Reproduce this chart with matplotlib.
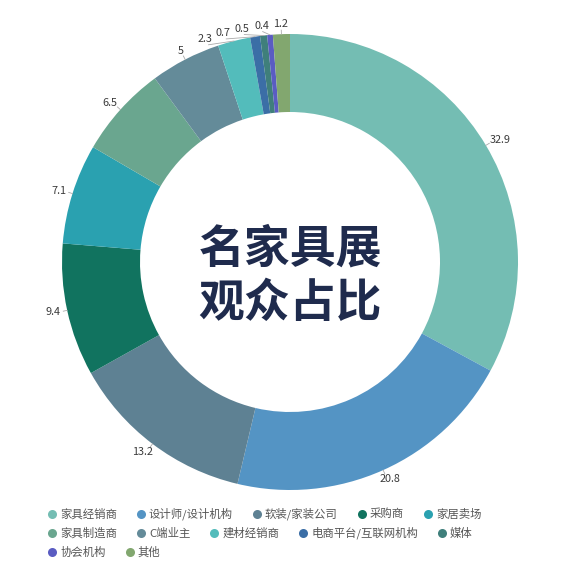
import numpy as np
import matplotlib
matplotlib.use('Agg')
import matplotlib.pyplot as plt

plt.rcParams['font.family'] = ['Noto Sans CJK SC', 'DejaVu Sans']

# 数据
categories = ['家具经销商', '设计师/设计机构', '软装/家装公司', '采购商', '家居卖场',
              '家具制造商', 'C端业主', '建材经销商', '电商平台/互联网机构', '媒体',
              '协会机构', '其他']
values = [32.9, 20.8, 13.2, 9.4, 7.1, 6.5, 5, 2.3, 0.7, 0.5, 0.4, 1.2]
colors = ['#74bdb3', '#5494c4', '#5e8193', '#11735f', '#2aa1b0', '#6aa68f',
          '#648b99', '#53bcbb', '#3b6ea6', '#3f7f7b', '#5a5cc2', '#82a76f']
title_lines = ['名家具展', '观众占比']

W = H = 580
cx, cy = 290, 262          # 圆心(像素, 自上而下)
r_out, r_in = 228, 150

fig = plt.figure(figsize=(5.8, 5.8), dpi=100)
ax = fig.add_axes([0, 0, 1, 1])

ax.pie(values, colors=colors, radius=r_out, center=(cx, H - cy),
       startangle=90, counterclock=False,
       wedgeprops=dict(width=r_out - r_in, edgecolor='none', linewidth=0))
ax.set_xlim(0, W)
ax.set_ylim(0, H)
ax.set_aspect('equal')
ax.axis('off')

# 标签位置: 中间角度(顺时针, 从正上方开始), 左上角小扇区避让
total = sum(values)
cum = np.cumsum([0] + values[:-1])
mid = [(c + v / 2) / total * 360 for c, v in zip(cum, values)]
lab = list(mid)
gap = 4.6
for i in range(len(lab) - 2, -1, -1):
    if lab[i] > 180:
        lab[i] = min(lab[i], lab[i + 1] - gap)


def pt(r, ang):
    a = np.radians(ang)
    return cx + r * np.sin(a), H - (cy - r * np.cos(a))


for v, m, a in zip(values, mid, lab):
    s = f'{v:g}'
    x0, y0 = pt(r_out, m)
    x1, y1 = pt(r_out + 4, a)
    ax.plot([x0, x1], [y0, y1], color='#aaaaaa', lw=0.6)
    tw = len(s) * 5.5
    tx = x1 + np.sin(np.radians(a)) * (tw / 2 + 2)
    ty = y1 + np.cos(np.radians(a)) * 6
    ax.text(tx, ty, s, ha='center', va='center', fontsize=7.8, color='#3a3a3a')

# 中间标题
ax.text(cx, H - 250, title_lines[0], ha='center', va='center', fontsize=33,
        fontweight='black', color='#1f2b4d')
ax.text(cx, H - 304, title_lines[1], ha='center', va='center', fontsize=33,
        fontweight='black', color='#1f2b4d')

# 图例(流式排列)
fig.canvas.draw()
renderer = fig.canvas.get_renderer()
x, row_y = 52, 514
max_x = 530
for name, col in zip(categories, colors):
    t = ax.text(0, 0, name, fontsize=8.2, color='#555555', va='center', ha='left')
    bb = t.get_window_extent(renderer)
    w = bb.width
    if x + 8 + w > max_x:
        x = 52
        row_y += 19
    t.set_position((x + 8, H - row_y))
    ax.plot([x], [H - row_y], marker='o', markersize=6.5, color=col, mec='none')
    x += 8 + w + 24

fig.savefig('out.png', dpi=100, facecolor='white')
